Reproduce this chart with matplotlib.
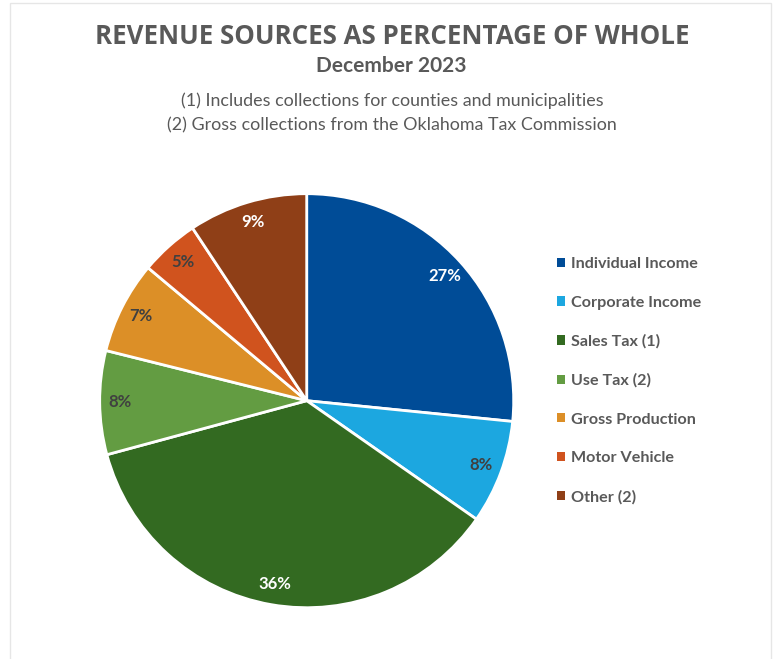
import matplotlib
matplotlib.use("Agg")
import matplotlib.pyplot as plt
from matplotlib.patches import Rectangle

# revenue shares, December 2023
categories = ["Individual Income", "Corporate Income", "Sales Tax (1)", "Use Tax (2)",
              "Gross Production", "Motor Vehicle", "Other (2)"]
shares = [26.6, 8.1, 36.1, 8.1, 7.2, 4.6, 9.3]
colors = ["#004C97", "#1CA7E0", "#336A21", "#639C42", "#DC8F27", "#D0531E", "#8F3F17"]
label_colors = ["white", "#404040", "white", "#404040", "#404040", "#404040", "white"]

GREY = "#595959"
W, H = 773, 659

fig = plt.figure(figsize=(W / 100, H / 100), dpi=100)
fig.patch.set_facecolor("white")

# faint frame around the chart area
fig.add_artist(Rectangle((10 / W, -0.01), (771 - 10) / W, 1 - 3 / H + 0.01,
                         transform=fig.transFigure, fill=False,
                         edgecolor="#E6E6E6", linewidth=1))

# pie axes, square in pixels
cx, cy, r = 306.7, H - 400.7, 207
ax = fig.add_axes([(cx - r) / W, (cy - r) / H, 2 * r / W, 2 * r / H])
wedges, texts, autotexts = ax.pie(
    shares, colors=colors, startangle=90, counterclock=False,
    autopct="%.0f%%", pctdistance=0.9,
    wedgeprops=dict(edgecolor="white", linewidth=2),
    textprops=dict(family="Lato", fontweight="bold", fontsize=12))
for t, c in zip(autotexts, label_colors):
    t.set_color(c)
ax.set_xlim(-1, 1)
ax.set_ylim(-1, 1)
ax.set_aspect("equal")
ax.axis("off")

# titles
fig.text(392 / W, 1 - 36 / H, "REVENUE SOURCES AS PERCENTAGE OF WHOLE", ha="center", va="center",
         family="Open Sans", fontweight="bold", fontsize=18.6, color=GREY)
fig.text(391 / W, 1 - 66 / H, "December 2023", ha="center", va="center",
         family="Lato", fontweight="bold", fontsize=15, color=GREY)
fig.text(392 / W, 1 - 101 / H, "(1) Includes collections for counties and municipalities",
         ha="center", va="center", family="Lato", fontsize=12.85, color=GREY)
fig.text(392 / W, 1 - 125 / H, "(2) Gross collections from the Oklahoma Tax Commission",
         ha="center", va="center", family="Lato", fontsize=12.85, color=GREY)

leg = fig.legend(wedges, categories, loc="upper left",
                 bbox_to_anchor=(542 / W, 1 - 242.5 / H), frameon=False,
                 handlelength=0.5, handleheight=0.5, handletextpad=0.4,
                 labelspacing=1.53,
                 prop=dict(family="Lato", weight="bold", size=11.6))
for t in leg.get_texts():
    t.set_color(GREY)
for h in leg.legend_handles:
    h.set_edgecolor("none")

fig.savefig("out.png", dpi=100)
